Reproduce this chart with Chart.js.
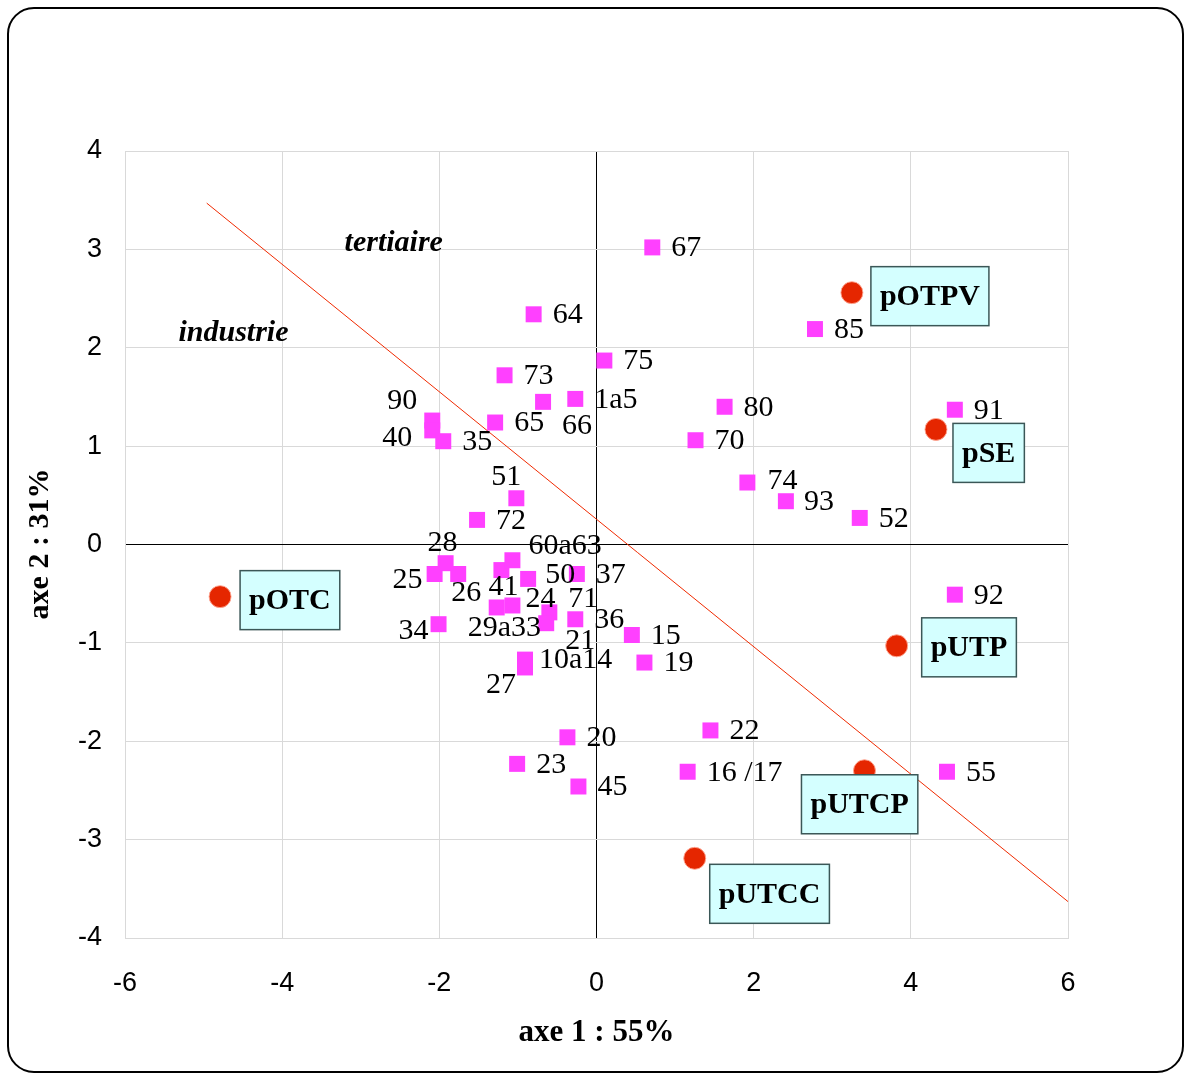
<!DOCTYPE html>
<html>
<head>
<meta charset="utf-8">
<script src="https://cdn.jsdelivr.net/npm/chart.js@4.4.1/dist/chart.umd.min.js"></script>
<style>
  body { margin: 0; background: #fff; }
  canvas { display: block; }
</style>
</head>
<body>
<canvas id="acpChart" width="1184" height="1073"></canvas>
<script>
// departements (squares)
const depLabels = ['67', '64', '75', '73', '1a5', '66', '65', '90', '40', '35', '51', '72',
    '28', '25', '26', '41', '60a63', '50', '37', '24', '71', '29a33', '21', '36', '15',
    '10a14', '27', '34', '19', '80', '70', '74', '93', '52', '85', '91', '92', '55', '22',
    '16 /17', '20', '23', '45'];
const depX = [0.71, -0.80, 0.10, -1.17, -0.27, -0.68, -1.29, -2.09, -2.09, -1.95, -1.02, -1.52,
    -1.92, -2.06, -1.76, -1.21, -1.07, -0.87, -0.25, -1.07, -0.60, -1.27, -0.64, -0.27, 0.45,
    -0.91, -0.91, -2.01, 0.61, 1.63, 1.26, 1.92, 2.41, 3.35, 2.78, 4.56, 4.56, 4.46, 1.45,
    1.16, -0.37, -1.01, -0.23];
const depY = [3.02, 2.34, 1.87, 1.72, 1.48, 1.45, 1.24, 1.26, 1.16, 1.05, 0.47, 0.25,
    -0.19, -0.30, -0.30, -0.26, -0.16, -0.35, -0.30, -0.62, -0.69, -0.64, -0.80, -0.76, -0.92,
    -1.17, -1.25, -0.81, -1.20, 1.40, 1.06, 0.63, 0.44, 0.27, 2.19, 1.37, -0.51, -2.31, -1.89,
    -2.31, -1.96, -2.23, -2.46];

// profils (red dots)
const profLabels = ['pOTPV', 'pSE', 'pUTP', 'pUTCP', 'pUTCC', 'pOTC'];
const profX = [3.25, 4.32, 3.82, 3.41, 1.25, -4.79];
const profY = [2.56, 1.17, -1.03, -2.30, -3.19, -0.53];

// separation line
const lineX = [-4.96, 6];
const lineY = [3.47, -3.63];

// zone names
const zoneText = ['tertiaire', 'industrie'];
const zoneX = [-2.58, -4.62];
const zoneY = [3.07, 2.16];

const xTitle = 'axe 1 : 55%';
const yTitle = 'axe 2 : 31%';

// label placement (pixels from the point)
const labelShift = {
    '66': [19, 23], '90': [-45, -20], '40': [-50, 7], '51': [-25, -22], '28': [-18, -21],
    '25': [-42, 5], '26': [-7, 18], '41': [-13, 16], '60a63': [16, -15], '50': [17, -5],
    '24': [13, -7], '71': [19, -14], '29a33': [-29, 20], '21': [19, 17], '10a14': [14, 0],
    '27': [-39, 17], '34': [-40, 6], '74': [20, -2], '93': [18, 0]
};
const boxShift = {
    'pOTPV': [19, -26], 'pSE': [17, -6], 'pUTP': [25, -28],
    'pUTCP': [-63, 4], 'pUTCC': [15, 6], 'pOTC': [20, -26]
};

const serif = '"Liberation Serif", "Times New Roman", serif';

const labelPlugin = {
    id: 'labelPlugin',
    beforeDraw(chart) {
        const ctx = chart.ctx;
        ctx.save();
        ctx.fillStyle = '#fff';
        ctx.fillRect(0, 0, chart.width, chart.height);
        ctx.restore();
    },
    afterDatasetsDraw(chart) {
        const ctx = chart.ctx;
        const xs = chart.scales.x, ys = chart.scales.y;
        ctx.save();

        // square labels
        ctx.font = '30px ' + serif;
        ctx.fillStyle = '#000';
        ctx.textBaseline = 'middle';
        ctx.textAlign = 'left';
        chart.getDatasetMeta(1).data.forEach((pt, i) => {
            const s = labelShift[depLabels[i]] || [19, 0];
            ctx.fillText(depLabels[i], pt.x + s[0], pt.y + s[1] + 1);
        });

        // profile boxes
        ctx.font = 'bold 30px ' + serif;
        chart.getDatasetMeta(0).data.forEach((pt, i) => {
            const s = boxShift[profLabels[i]];
            const w = ctx.measureText(profLabels[i]).width + 18;
            const h = 59;
            const bx = pt.x + s[0], by = pt.y + s[1];
            ctx.fillStyle = '#d4ffff';
            ctx.fillRect(bx, by, w, h);
            ctx.strokeStyle = '#3b5757';
            ctx.lineWidth = 1.5;
            ctx.strokeRect(bx, by, w, h);
            ctx.fillStyle = '#000';
            ctx.textAlign = 'center';
            ctx.fillText(profLabels[i], bx + w / 2, by + h / 2 + 1);
        });

        // zone names
        ctx.font = 'bold italic 30px ' + serif;
        ctx.textAlign = 'center';
        zoneText.forEach((t, i) => {
            ctx.fillText(t, xs.getPixelForValue(zoneX[i]), ys.getPixelForValue(zoneY[i]) + 1);
        });

        // axis titles
        ctx.font = 'bold 31px ' + serif;
        ctx.fillText(xTitle, (chart.chartArea.left + chart.chartArea.right) / 2, 1033);
        ctx.font = 'bold 30px ' + serif;
        ctx.translate(40, 544);
        ctx.rotate(-Math.PI / 2);
        ctx.fillText(yTitle, 0, 0);
        ctx.restore();

        // outer frame
        ctx.save();
        ctx.strokeStyle = '#000';
        ctx.lineWidth = 2;
        ctx.beginPath();
        ctx.roundRect(8, 8, 1175, 1064, 26);
        ctx.stroke();
        ctx.restore();
    }
};

new Chart(document.getElementById('acpChart'), {
    type: 'scatter',
    data: {
        datasets: [{
            label: 'profils',
            data: profX.map((x, i) => ({ x: x, y: profY[i] })),
            backgroundColor: '#e52600',
            borderColor: 'rgba(255,170,150,0.9)',
            borderWidth: 1,
            pointRadius: 11,
            pointHoverRadius: 11,
            order: 1
        }, {
            label: 'departements',
            data: depX.map((x, i) => ({ x: x, y: depY[i] })),
            pointStyle: 'rect',
            backgroundColor: '#ff40ff',
            borderWidth: 0,
            pointRadius: 11.3,
            pointHoverRadius: 11.3,
            order: 2
        }, {
            label: 'limite',
            data: lineX.map((x, i) => ({ x: x, y: lineY[i] })),
            showLine: true,
            borderColor: '#f02a00',
            borderWidth: 1,
            pointRadius: 0,
            order: 3
        }]
    },
    options: {
        responsive: false,
        animation: false,
        layout: { padding: { top: 151, right: 116, left: 0, bottom: 0 } },
        plugins: { legend: { display: false }, tooltip: { enabled: false } },
        scales: {
            x: {
                type: 'linear',
                min: -6, max: 6,
                afterFit: s => { s.height = 135; },
                ticks: { stepSize: 2, padding: 29, color: '#000', font: { family: 'Liberation Sans', size: 27 } },
                grid: {
                    drawTicks: false,
                    color: c => c.tick && c.tick.value === 0 ? '#000' : '#d9d9d9',
                    lineWidth: 1
                },
                border: { color: '#d9d9d9' }
            },
            y: {
                type: 'linear',
                min: -4, max: 4,
                afterFit: s => { s.width = 125; },
                ticks: { stepSize: 1, padding: 23, color: '#000', font: { family: 'Liberation Sans', size: 27 } },
                grid: {
                    drawTicks: false,
                    color: c => c.tick && c.tick.value === 0 ? '#000' : '#d9d9d9',
                    lineWidth: 1
                },
                border: { color: '#d9d9d9' }
            }
        }
    },
    plugins: [labelPlugin]
});
</script>
</body>
</html>
